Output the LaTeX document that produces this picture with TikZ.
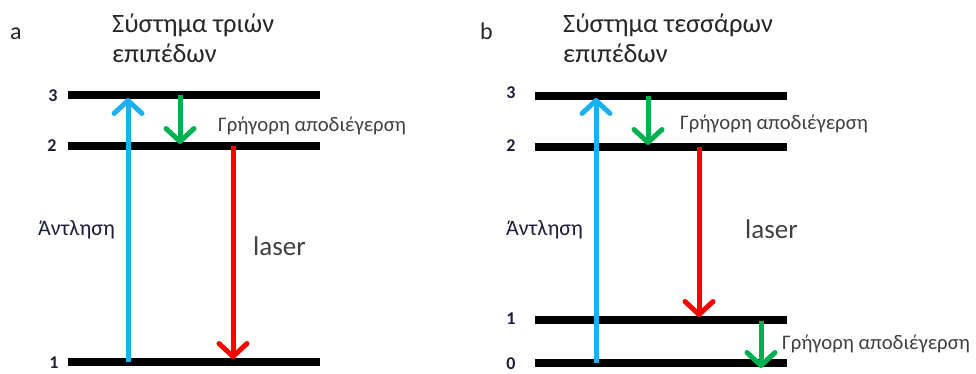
\documentclass[tikz,border=0pt]{standalone}
\usepackage{fontspec}
\setmainfont{Carlito}
\usetikzlibrary{arrows.meta}
\definecolor{pumpblue}{HTML}{1CB0F0}
\definecolor{decgreen}{HTML}{00B050}
\definecolor{laserred}{HTML}{FF0000}
\definecolor{txtgray}{HTML}{404040}
\definecolor{titlegray}{HTML}{262626}
\definecolor{pumptext}{HTML}{1E1E3A}
\begin{document}
\begin{tikzpicture}[x=1pt,y=-1pt,
  level/.style={line width=8pt},
  arr/.style={line width=5pt,-{Straight Barb[length=13pt,width=28pt,line cap=round,line join=round]}},
  pump/.style={arr,draw=pumpblue},
  decay/.style={arr,draw=decgreen},
  lasing/.style={arr,draw=laserred},
  title/.style={font=\fontsize{26.5}{30}\selectfont,text=titlegray,inner sep=0pt,anchor=base west},
  small/.style={font=\fontsize{20.7}{24}\selectfont,text=txtgray,inner sep=0pt,anchor=base west},
  pumplabel/.style={font=\fontsize{22}{26}\selectfont,text=pumptext,inner sep=0pt,anchor=base west},
  big/.style={font=\fontsize{27}{30}\selectfont,text=txtgray,inner sep=0pt,anchor=base west},
  num/.style={font=\fontsize{18}{20}\selectfont\bfseries,text=pumptext,inner sep=0pt},
  panel/.style={font=\fontsize{24}{28}\selectfont,text=titlegray,inner sep=0pt,anchor=base west}]
\useasboundingbox (0,0) rectangle (976,373);
% ---------- panel a ----------
\node[panel] (la) at (10,39) {a};
\node[title] (ta1) at (112,32) {Σύστημα τριών};
\node[title] (ta2) at (112,62) {επιπέδων};
\coordinate (a3L) at (68,95);  \coordinate (a3R) at (320,95);
\coordinate (a2L) at (68,146); \coordinate (a2R) at (320,146);
\coordinate (a1L) at (68,362); \coordinate (a1R) at (320,362);
\draw[level] (a3L) -- (a3R);
\draw[level] (a2L) -- (a2R);
\draw[level] (a1L) -- (a1R);
\node[num] (na3) at (53,96) {3};
\node[num] (na2) at (52,146) {2};
\node[num] (na1) at (54,363) {1};
\coordinate (apb) at (128,362); \coordinate (apt) at (128,98);
\draw[pump] (apb) -- (apt);
\coordinate (agt) at (180,95); \coordinate (agb) at (180,144);
\draw[decay] (agt) -- (agb);
\coordinate (art) at (233,146); \coordinate (arb) at (233,359);
\draw[lasing] (art) -- (arb);
\node[small] (ga) at (218,131) {Γρήγορη αποδιέγερση};
\node[pumplabel] (pa) at (38,235) {Άντληση};
\node[big] (lsa) at (253,255) {laser};
% ---------- panel b ----------
\node[panel] (lb) at (480,39) {b};
\node[title] (tb1) at (563,32) {Σύστημα τεσσάρων};
\node[title] (tb2) at (563,62) {επιπέδων};
\coordinate (b3L) at (535,96);  \coordinate (b3R) at (787,96);
\coordinate (b2L) at (535,147); \coordinate (b2R) at (787,147);
\coordinate (b1L) at (535,320); \coordinate (b1R) at (787,320);
\coordinate (b0L) at (535,363); \coordinate (b0R) at (787,363);
\draw[level] (b3L) -- (b3R);
\draw[level] (b2L) -- (b2R);
\draw[level] (b1L) -- (b1R);
\draw[level] (b0L) -- (b0R);
\node[num] (nb3) at (511,93) {3};
\node[num] (nb2) at (511,146) {2};
\node[num] (nb1) at (511,319) {1};
\node[num] (nb0) at (511,364) {0};
\coordinate (bpb) at (596,363); \coordinate (bpt) at (596,98);
\draw[pump] (bpb) -- (bpt);
\coordinate (bgt) at (648,96); \coordinate (bgb) at (648,145);
\draw[decay] (bgt) -- (bgb);
\coordinate (brt) at (699,147); \coordinate (brb) at (699,317);
\draw[lasing] (brt) -- (brb);
\coordinate (bg2t) at (761,321); \coordinate (bg2b) at (761,368);
\draw[decay] (bg2t) -- (bg2b);
\node[small] (gb) at (680,129) {Γρήγορη αποδιέγερση};
\node[small] (gb2) at (782,349) {Γρήγορη αποδιέγερση};
\node[pumplabel] (pb) at (506,235) {Άντληση};
\node[big] (lsb) at (745,238) {laser};
\end{tikzpicture}
\end{document}
